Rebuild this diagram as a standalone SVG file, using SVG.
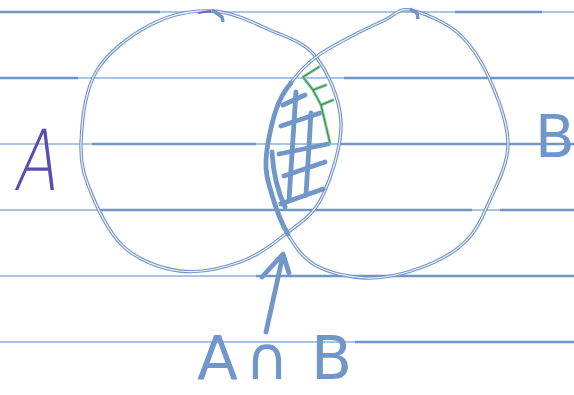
<svg xmlns="http://www.w3.org/2000/svg" width="574" height="395" viewBox="0 0 574 395">
<style>
.rule-light{stroke:#a9c5e6;stroke-width:2;fill:none}
.rule{stroke:#7195c8;stroke-width:2.4;fill:none}
.ring-out{fill:none;stroke:#7293c8;stroke-width:3.4;stroke-linejoin:round}
.ring-in{fill:none;stroke:#eef3fa;stroke-width:1.2;stroke-linejoin:round}
.pen{fill:none;stroke:#7097c8;stroke-width:4.8;stroke-linecap:round;stroke-linejoin:round}
.green-out{fill:none;stroke:#86c79a;stroke-width:3;stroke-linecap:round;stroke-linejoin:round}
.green-in{fill:none;stroke:#2f8a45;stroke-width:1;stroke-linecap:round}
.hand{font-family:"DejaVu Sans","Liberation Sans",sans-serif}
</style>
<g id="paper">
<g class="rule-light">
<line x1="0" y1="12" x2="574" y2="12"/>
<line x1="0" y1="78" x2="574" y2="78"/>
<line x1="0" y1="144" x2="574" y2="144"/>
<line x1="0" y1="210" x2="574" y2="210"/>
<line x1="0" y1="276" x2="574" y2="276"/>
<line x1="0" y1="342" x2="574" y2="342"/>
</g>
<g class="rule">
<line x1="0" y1="12" x2="160" y2="12"/>
<line x1="455" y1="12" x2="542" y2="12"/>
<line x1="0" y1="78" x2="78" y2="78"/>
<line x1="344" y1="78" x2="574" y2="78"/>
<line x1="92" y1="144" x2="256" y2="144"/>
<line x1="340" y1="144" x2="574" y2="144"/>
<line x1="99" y1="210" x2="472" y2="210"/>
<line x1="500" y1="210" x2="574" y2="210"/>
<line x1="256" y1="276" x2="574" y2="276"/>
<line x1="355" y1="342" x2="574" y2="342"/>
</g>
</g>
<g id="circle-a">
<path class="ring-out" d="M212,11 C232,11.8 252.7,22.3 270,30 C287.3,37.7 304.2,41.7 316,57 C327.8,72.3 340,98.7 341,122 C342,145.3 331,178.5 322,197 C313,215.5 300.7,222.2 287,233 C273.3,243.8 257.8,255.7 240,262 C222.2,268.3 199.2,273.3 180,271 C160.8,268.7 139.7,260.7 125,248 C110.3,235.3 99.3,212.3 92,195 C84.7,177.7 80.3,164.5 81,144 C81.7,123.5 84.5,91.8 96,72 C107.5,52.2 130.7,35.2 150,25 C169.3,14.8 192,10.2 212,11 Z"/>
<path class="ring-in" d="M212,11 C232,11.8 252.7,22.3 270,30 C287.3,37.7 304.2,41.7 316,57 C327.8,72.3 340,98.7 341,122 C342,145.3 331,178.5 322,197 C313,215.5 300.7,222.2 287,233 C273.3,243.8 257.8,255.7 240,262 C222.2,268.3 199.2,273.3 180,271 C160.8,268.7 139.7,260.7 125,248 C110.3,235.3 99.3,212.3 92,195 C84.7,177.7 80.3,164.5 81,144 C81.7,123.5 84.5,91.8 96,72 C107.5,52.2 130.7,35.2 150,25 C169.3,14.8 192,10.2 212,11 Z"/>
<path class="ring-out" d="M212,10 L222,17 L223,22"/>
<path d="M198,13 L211,11" stroke="#7a5fb8" stroke-width="2.2" fill="none"/>
</g>
<g id="circle-b">
<path class="ring-out" d="M410,10 C422.2,12.2 444.7,21.3 458,33 C471.3,44.7 481.7,61.5 490,80 C498.3,98.5 508,124 508,144 C508,164 497.2,183.7 490,200 C482.8,216.3 476.7,230.7 465,242 C453.3,253.3 436.5,262 420,268 C403.5,274 383.5,278.5 366,278 C348.5,277.5 328.2,272.5 315,265 C301.8,257.5 294.2,244.7 287,233 C279.8,221.3 275.5,207.2 272,195 C268.5,182.8 265.3,174.2 266,160 C266.7,145.8 271.5,123.3 276,110 C280.5,96.7 286.3,88.8 293,80 C299.7,71.2 306.5,64.2 316,57 C325.5,49.8 338.5,43.2 350,37 C361.5,30.8 375,24.5 385,20 C395,15.5 397.8,7.8 410,10 Z"/>
<path class="ring-in" d="M410,10 C422.2,12.2 444.7,21.3 458,33 C471.3,44.7 481.7,61.5 490,80 C498.3,98.5 508,124 508,144 C508,164 497.2,183.7 490,200 C482.8,216.3 476.7,230.7 465,242 C453.3,253.3 436.5,262 420,268 C403.5,274 383.5,278.5 366,278 C348.5,277.5 328.2,272.5 315,265 C301.8,257.5 294.2,244.7 287,233 C279.8,221.3 275.5,207.2 272,195 C268.5,182.8 265.3,174.2 266,160 C266.7,145.8 271.5,123.3 276,110 C280.5,96.7 286.3,88.8 293,80 C299.7,71.2 306.5,64.2 316,57 C325.5,49.8 338.5,43.2 350,37 C361.5,30.8 375,24.5 385,20 C395,15.5 397.8,7.8 410,10 Z"/>
<path class="ring-out" d="M410,9 L417,13 L418,19"/>
</g>
<g id="intersection">
<path class="pen" d="M291,83 C285,90 280,98 276,110 C271.5,123.3 266.7,145.8 266,160 C265.3,174.2 268.5,182.8 272,195 C275.5,207.2 280,221 288,234"/>
<path class="pen" stroke-width="3.6" d="M272,152 C273,170 277,190 285,207"/>
<line class="pen" x1="296" y1="92" x2="289" y2="200"/>
<line class="pen" x1="311" y1="113" x2="306" y2="195"/>
<line class="pen" x1="283" y1="105" x2="305" y2="95"/>
<line class="pen" x1="281" y1="126" x2="320" y2="113"/>
<line class="pen" x1="279" y1="154" x2="328" y2="144"/>
<line class="pen" x1="284" y1="176" x2="325" y2="162"/>
<line class="pen" x1="281" y1="204" x2="323" y2="189"/>
<path class="green-out" d="M319,67 L303,77 L313,90 L321,105 L330,143 M313,90 L326,85 M321,105 L333,100"/>
<path class="green-in" d="M319,67 L303,77 L313,90 L321,105 L330,143 M313,90 L326,85 M321,105 L333,100"/>
</g>
<g id="connectors">
<path class="pen" stroke-width="5.5" d="M266,332 L283,255 M262,277 L283,254 L289,273"/>
</g>
<g id="label-a">
<text class="hand" x="0" y="0" font-size="84" font-weight="200" fill="#5a4db0" transform="translate(13,190) scale(0.75,1) skewX(-12)">A</text>
</g>
<g id="label-b">
<text class="hand" x="535" y="157" font-size="58" fill="#7097c8">B</text>
</g>
<g id="label-aib">
<text class="hand" y="379" font-size="60" fill="#7097c8"><tspan x="197">A</tspan><tspan x="245">∩</tspan><tspan x="311">B</tspan></text>
</g>
</svg>
